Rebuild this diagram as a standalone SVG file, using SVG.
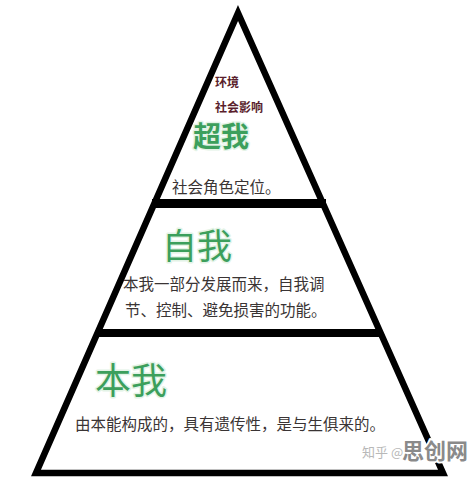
<svg xmlns="http://www.w3.org/2000/svg" width="476" height="478" viewBox="0 0 476 478">
<style>
.cjk{font-family:"Noto Sans CJK SC","Noto Sans CJK TC",sans-serif}
.title{fill:#3c9f5c;stroke:#e3f3e6;stroke-width:3;paint-order:stroke;stroke-linejoin:round}
.body{fill:#3a3434;font-size:15.5px}
.env{fill:#5a1e2c;font-size:12px;font-weight:bold}
.bar{fill:#000}
.wm{stroke:#fff;stroke-width:4;paint-order:stroke;stroke-linejoin:round}
</style>
<rect width="476" height="478" fill="#fff"/>
<g id="frame">
<polygon points="238,13 36,473 443,473" fill="#fff" stroke="#000" stroke-width="6.5" stroke-linejoin="miter" stroke-miterlimit="10"/>
<rect class="bar" x="152" y="199" width="174" height="9"/>
<rect class="bar" x="96" y="329" width="286" height="8"/>
</g>
<g id="superego">
<text class="cjk env" x="215" y="87">环境</text>
<text class="cjk env" x="215" y="112">社会影响</text>
<text class="cjk title" x="193" y="147" font-size="28" font-weight="bold">超我</text>
<text class="cjk body" x="172" y="193">社会角色定位。</text>
</g>
<g id="ego">
<text class="cjk title" x="162" y="259" font-size="35">自我</text>
<text class="cjk body" x="123" y="290" font-size="16">本我一部分发展而来，自我调</text>
<text class="cjk body" x="125" y="316" font-size="16">节、控制、避免损害的功能。</text>
</g>
<g id="id">
<text class="cjk title" x="95" y="394" font-size="36">本我</text>
<text class="cjk body" x="75" y="430">由本能构成的，具有遗传性，是与生俱来的。</text>
</g>
<g id="connectors"></g>
<g id="watermark">
<text class="cjk wm" x="362" y="457" font-size="13" fill="#b8b8b8">知乎 @</text>
<text class="cjk wm" x="402" y="459" font-size="22" font-weight="bold" fill="#8a8a8a">思创网</text>
</g>
</svg>
